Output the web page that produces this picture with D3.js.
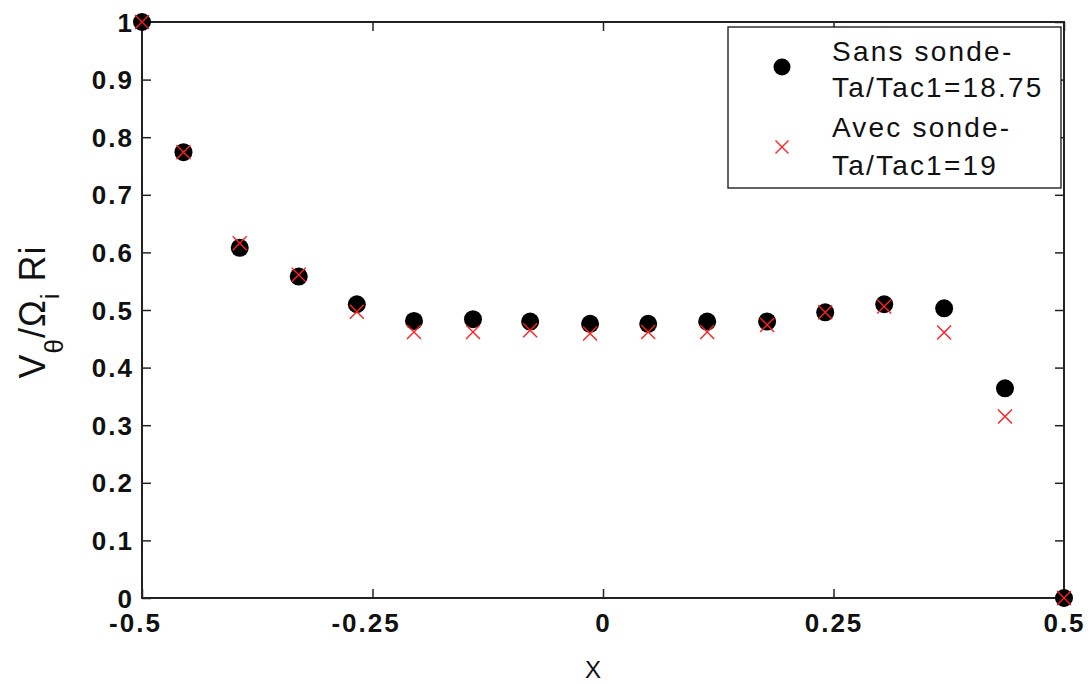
<!DOCTYPE html>
<html>
<head>
<meta charset="utf-8">
<script src="https://cdn.jsdelivr.net/npm/d3@7"></script>
<style>
  html, body { margin: 0; padding: 0; background: #fff; }
  svg { display: block; }
  .tick text { font-family: "Liberation Sans", Arial, sans-serif; font-weight: bold; font-size: 26px; letter-spacing: 2px; fill: #111; }
</style>
</head>
<body>
<svg id="chart" width="1092" height="684"></svg>
<script>
const xValues   = [-0.5, -0.455, -0.394, -0.330, -0.267, -0.205, -0.141, -0.079, -0.014, 0.049, 0.113, 0.178, 0.241, 0.305, 0.370, 0.436, 0.5];
const sansSonde = [1.0, 0.774, 0.608, 0.558, 0.510, 0.481, 0.484, 0.480, 0.476, 0.476, 0.480, 0.480, 0.496, 0.510, 0.503, 0.364, 0.0];
const avecSonde = [1.0, 0.774, 0.616, 0.561, 0.497, 0.462, 0.462, 0.465, 0.459, 0.462, 0.462, 0.474, 0.496, 0.506, 0.461, 0.315, 0.0];
const xTicks = [-0.5, -0.25, 0, 0.25, 0.5];
const xTickLabels = ["-0.5", "-0.25", "0", "0.25", "0.5"];
const yTicks = [0, 0.1, 0.2, 0.3, 0.4, 0.5, 0.6, 0.7, 0.8, 0.9, 1];
const yTickLabels = ["0", "0.1", "0.2", "0.3", "0.4", "0.5", "0.6", "0.7", "0.8", "0.9", "1"];
const legendLabels = [["Sans sonde-", "Ta/Tac1=18.75"], ["Avec sonde-", "Ta/Tac1=19"]];

const svg = d3.select("#chart");
const L = 142, R = 1064, T = 22, B = 598;
const x = d3.scaleLinear().domain([-0.5, 0.5]).range([L, R]);
const y = d3.scaleLinear().domain([0, 1]).range([B, T]);
const axisColor = "#222";

// Bottom axis
const gx = svg.append("g").attr("transform", `translate(0,${B})`)
  .call(d3.axisBottom(x).tickValues(xTicks).tickFormat((d, i) => xTickLabels[i]).tickSizeInner(-9).tickSizeOuter(0));
gx.select(".domain").remove();
gx.selectAll(".tick line").attr("stroke", axisColor).attr("stroke-width", 1.5);
gx.selectAll(".tick text").attr("dy", null).attr("y", 34)
  .attr("dx", d => d < 0 ? -7 : 0);

// Top axis ticks
const gxt = svg.append("g").attr("transform", `translate(0,${T})`)
  .call(d3.axisTop(x).tickValues(xTicks).tickFormat("").tickSizeInner(-9).tickSizeOuter(0));
gxt.select(".domain").remove();
gxt.selectAll(".tick line").attr("stroke", axisColor).attr("stroke-width", 1.5);

// Left axis
const gy = svg.append("g").attr("transform", `translate(${L},0)`)
  .call(d3.axisLeft(y).tickValues(yTicks).tickFormat((d, i) => yTickLabels[i]).tickSizeInner(-9).tickSizeOuter(0));
gy.select(".domain").remove();
gy.selectAll(".tick line").attr("stroke", axisColor).attr("stroke-width", 1.5);
gy.selectAll(".tick text").attr("x", -8).attr("dy", null).attr("y", 9);

// Right axis ticks
const gyr = svg.append("g").attr("transform", `translate(${R},0)`)
  .call(d3.axisRight(y).tickValues(yTicks).tickFormat("").tickSizeInner(-9).tickSizeOuter(0));
gyr.select(".domain").remove();
gyr.selectAll(".tick line").attr("stroke", axisColor).attr("stroke-width", 1.5);

// Box
svg.append("rect").attr("x", L).attr("y", T).attr("width", R - L).attr("height", B - T)
  .attr("fill", "none").attr("stroke", axisColor).attr("stroke-width", 2);

// Data
const pts = xValues.map((xv, i) => ({ x: xv, s: sansSonde[i], a: avecSonde[i] }));
svg.append("g").selectAll("circle").data(pts).join("circle")
  .attr("cx", d => x(d.x)).attr("cy", d => y(d.s)).attr("r", 9).attr("fill", "#000");

const crossPath = (cx, cy, h) => `M${cx - h},${cy - h}L${cx + h},${cy + h}M${cx - h},${cy + h}L${cx + h},${cy - h}`;
svg.append("g").selectAll("path").data(pts).join("path")
  .attr("d", d => crossPath(x(d.x), y(d.a), 7))
  .attr("stroke", "#ff2020").attr("stroke-width", 1.4).attr("fill", "none");

// Legend
const lg = svg.append("g");
lg.append("rect").attr("x", 728).attr("y", 27).attr("width", 333).attr("height", 161)
  .attr("fill", "#fff").attr("stroke", "#111").attr("stroke-width", 1.3);
lg.append("circle").attr("cx", 782).attr("cy", 67).attr("r", 8.5).attr("fill", "#000");
lg.append("path").attr("d", crossPath(782, 147, 6.5)).attr("stroke", "#ff2020").attr("stroke-width", 1.4);
const baselines = [[61, 97], [137, 175]];
legendLabels.forEach((lines, i) => {
  lines.forEach((t, j) => {
    lg.append("text").attr("x", 832).attr("y", baselines[i][j]).text(t)
      .attr("font-family", "Liberation Sans, Arial, sans-serif").attr("font-size", 28)
      .attr("letter-spacing", "2.2px").attr("fill", "#111");
  });
});

// Axis labels
svg.append("text").attr("x", 593).attr("y", 678).attr("text-anchor", "middle")
  .attr("font-family", "Liberation Sans, Arial, sans-serif").attr("font-size", 24).attr("fill", "#111").text("X");

const yl = svg.append("text").attr("transform", "translate(45,312) rotate(-90)")
  .attr("text-anchor", "middle").attr("font-family", "Liberation Sans, Arial, sans-serif")
  .attr("font-size", 36).attr("fill", "#111").attr("letter-spacing", "1px");
yl.append("tspan").text("V");
yl.append("tspan").attr("font-size", 26).attr("dy", 18).text("θ");
yl.append("tspan").attr("dy", -18).text("/Ω");
yl.append("tspan").attr("font-size", 26).attr("dy", 14).text("i");
yl.append("tspan").attr("dy", -14).text(" Ri");
</script>
</body>
</html>
